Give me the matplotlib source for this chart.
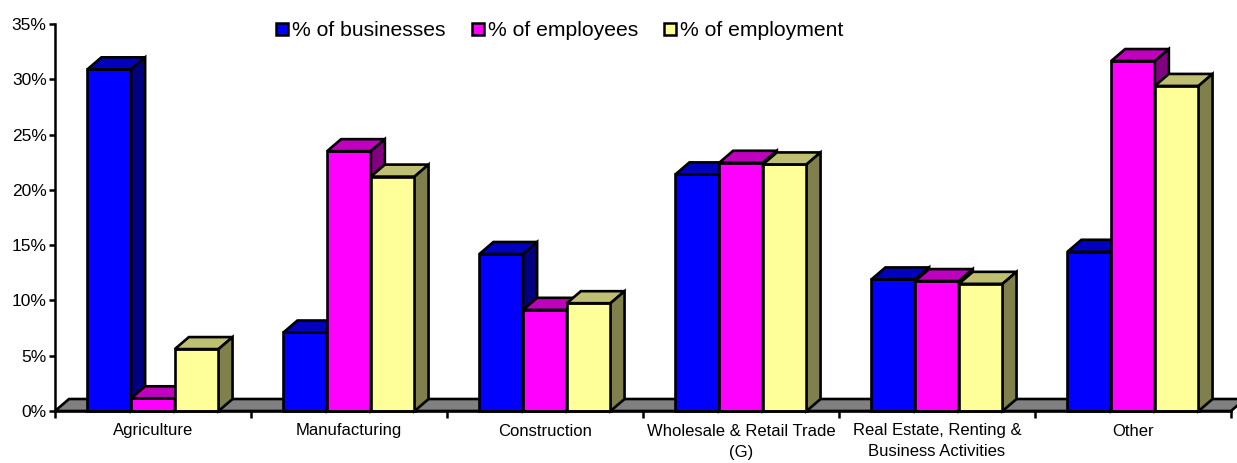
import numpy as np
import matplotlib
matplotlib.use("Agg")
import matplotlib.pyplot as plt
from matplotlib.patches import Polygon, Patch
from matplotlib.ticker import FuncFormatter, FixedLocator

plt.rcParams['font.family'] = ['Liberation Sans', 'DejaVu Sans']

# --------------------------
# DADOS
# --------------------------

categorias = ["Agriculture", "Manufacturing", "Construction",
              "Wholesale & Retail Trade\n(G)",
              "Real Estate, Renting &\nBusiness Activities", "Other"]
series = ["% of businesses", "% of employees", "% of employment"]

pct_businesses = [30.9, 7.1, 14.2, 21.4, 11.9, 14.4]
pct_employees = [1.15, 23.5, 9.15, 22.45, 11.75, 31.65]
pct_employment = [5.6, 21.2, 9.75, 22.3, 11.5, 29.4]

# cores: frente, topo, lateral
cores = [("#0000FF", "#0000BF", "#000080"),
         ("#FF00FF", "#BF00BF", "#800080"),
         ("#FFFF99", "#BFBF73", "#80804C")]

# --------------------------
# FIGURA
# --------------------------

W, H = 1237, 463
fig = plt.figure(figsize=(W / 100, H / 100), dpi=100)
x0, x1, y0, y1 = 55, 1231, 411, 24
ax = fig.add_axes([x0 / W, (H - y0) / H, (x1 - x0) / W, (y0 - y1) / H])

n = len(categorias)
ymax = 35
ax.set_xlim(0, n)
ax.set_ylim(0, ymax)

# profundidade do efeito 3D em pixels -> unidades de dados
DX_PX, DY_PX = 14, 12
dx = DX_PX / ((x1 - x0) / n)
dy = DY_PX / ((y0 - y1) / ymax)

lw = 1.9

# piso cinza
piso = Polygon([(0, 0), (n, 0), (n + dx, dy), (dx, dy)], closed=True,
               facecolor="#808080", edgecolor="black", lw=lw,
               joinstyle="miter", zorder=1, clip_on=False)
ax.add_patch(piso)

largura = 0.223
inicio = (1 - 3 * largura) / 2
valores = [pct_businesses, pct_employees, pct_employment]

z = 2
for i in range(n):
    for s in range(3):
        v = valores[s][i]
        xl = i + inicio + s * largura
        xr = xl + largura
        frente, topo, lado = cores[s]
        faces = [
            ([(xl, 0), (xr, 0), (xr, v), (xl, v)], frente),
            ([(xl, v), (xr, v), (xr + dx, v + dy), (xl + dx, v + dy)], topo),
            ([(xr, 0), (xr + dx, dy), (xr + dx, v + dy), (xr, v)], lado),
        ]
        for pts, cor in faces:
            ax.add_patch(Polygon(pts, closed=True, facecolor=cor,
                                 edgecolor="black", lw=lw,
                                 joinstyle="miter", zorder=z, clip_on=False))
        z += 1

# --------------------------
# EIXOS
# --------------------------

for lado in ["top", "right"]:
    ax.spines[lado].set_visible(False)
for lado in ["left", "bottom"]:
    ax.spines[lado].set_linewidth(1.8)
    ax.spines[lado].set_zorder(z + 1)

ax.yaxis.set_major_locator(FixedLocator(np.arange(0, ymax + 1, 5)))
ax.yaxis.set_major_formatter(FuncFormatter(lambda v, p: f"{v:.0f}%"))
ax.tick_params(axis="y", direction="out", length=4, width=1.8,
               labelsize=12.5, pad=2)

ax.set_xticks(np.arange(0, n + 1))
ax.set_xticklabels([])
ax.set_xticks(np.arange(n) + 0.5, minor=True)
ax.set_xticklabels(categorias, minor=True, fontsize=12, linespacing=1.5)
ax.tick_params(axis="x", which="major", direction="out", length=5, width=1.8)
ax.tick_params(axis="x", which="minor", length=0, pad=9)

# --------------------------
# LEGENDA
# --------------------------

handles = [Patch(facecolor=c[0], edgecolor="black", lw=1.8) for c in cores]
fig.legend(handles, series, loc="center", bbox_to_anchor=(560 / W, 1 - 31 / H),
           ncol=3, frameon=False, fontsize=15.2, handlelength=0.55,
           handleheight=0.55, handletextpad=0.2, columnspacing=1.25)

fig.savefig("out.png", dpi=100)
